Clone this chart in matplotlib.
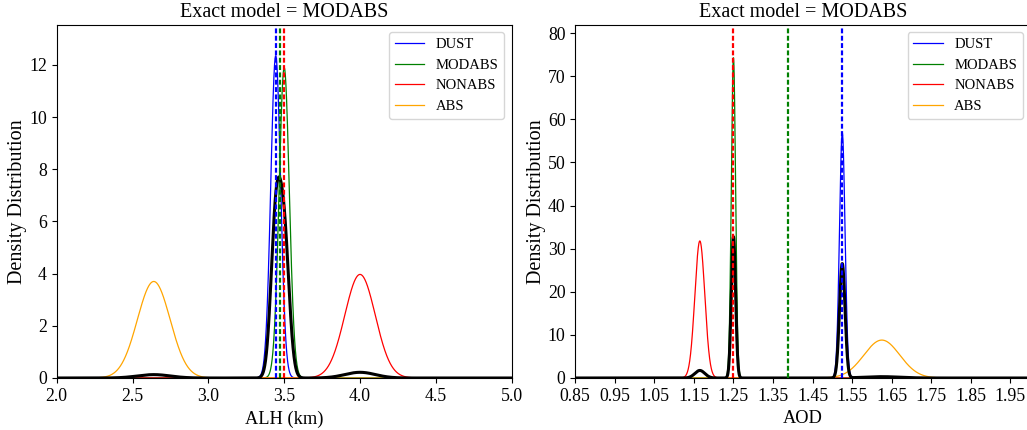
import numpy as np
import matplotlib
matplotlib.use("Agg")
import matplotlib.pyplot as plt

plt.rcParams["font.family"] = ["Liberation Serif", "DejaVu Serif"]
plt.rcParams["mathtext.fontset"] = "stix"

# Aerosol models, their colours and posterior model weights
models = ["DUST", "MODABS", "NONABS", "ABS"]
colors = ["blue", "green", "red", "orange"]
model_weight = [0.466, 0.441, 0.055, 0.035]

# Per-model posterior density of ALH: mode (km) and peak density
alh_mode = [3.444, 3.500, 4.000, 2.640]
alh_peak = [12.35, 11.9, 3.97, 3.70]
# Retrieved ALH per model (dashed markers)
alh_marker = [3.444, 3.472, 3.500]

# Per-model posterior density of AOD: mode and peak density
aod_mode = [1.525, 1.250, 1.165, 1.625]
aod_peak = [56.9, 74.3, 31.8, 8.8]
# Retrieved AOD per model (dashed markers)
aod_marker = [1.525, 1.387, 1.250]

exact_model = "MODABS"

alh_ticks = [2.0, 2.5, 3.0, 3.5, 4.0, 4.5, 5.0]
aod_ticks = [0.85, 0.95, 1.05, 1.15, 1.25, 1.35, 1.45, 1.55, 1.65, 1.75, 1.85, 1.95]


def normal_pdf(x, mode, peak):
    sigma = 1.0 / (peak * np.sqrt(2 * np.pi))
    return peak * np.exp(-0.5 * ((x - mode) / sigma) ** 2)


W, H = 1027, 430
fig = plt.figure(figsize=(W / 100, H / 100), dpi=100)
ax1 = fig.add_axes([56.7 / W, 52 / H, 455 / W, 353 / H])
ax2 = fig.add_axes([575.2 / W, 52 / H, 455 / W, 353 / H])


def draw_panel(ax, xgrid, modes, peaks, markers, xlim, ylim, ticks, xlabel, yticks, fmt):
    mixture = np.zeros_like(xgrid)
    for name, c, m, p, w in zip(models, colors, modes, peaks, model_weight):
        dens = normal_pdf(xgrid, m, p)
        ax.plot(xgrid, dens, color=c, lw=0.9, label=name)
        mixture += w * dens
    ax.plot(xgrid, mixture, color="black", lw=2.2)
    for c, v in zip(colors, markers):
        ax.axvline(v, color=c, lw=1.6, linestyle=(0, (2.2, 1.1)))
    ax.set_xlim(*xlim)
    ax.set_ylim(*ylim)
    ax.set_xticks(ticks)
    ax.set_xticklabels([fmt.format(t) for t in ticks])
    ax.set_yticks(yticks)
    ax.tick_params(labelsize=12.8)
    ax.set_xlabel(xlabel, fontsize=13.2)
    ax.set_ylabel("Density Distribution", fontsize=14.5, labelpad=1.5)
    ax.set_title(f"Exact model = {exact_model}", fontsize=14.5)
    ax.legend(loc="upper right", fontsize=10.5)


x_alh = np.linspace(2.0, 5.0, 6000)
draw_panel(ax1, x_alh, alh_mode, alh_peak, alh_marker, (2.0, 5.0), (0, 13.53),
           alh_ticks, "ALH (km)", [0, 2, 4, 6, 8, 10, 12], "{:.1f}")

x_aod = np.linspace(0.85, 2.0, 8000)
draw_panel(ax2, x_aod, aod_mode, aod_peak, aod_marker, (0.85, 2.0), (0, 81.9),
           aod_ticks, "AOD", [0, 10, 20, 30, 40, 50, 60, 70, 80], "{:.2f}")

fig.savefig("out.png", dpi=100)
